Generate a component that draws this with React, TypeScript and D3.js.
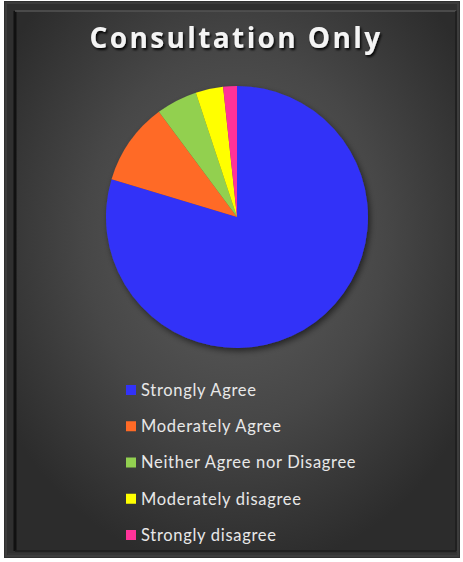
import React from "react";
import * as d3 from "d3";

const categories = [
  "Strongly Agree",
  "Moderately Agree",
  "Neither Agree nor Disagree",
  "Moderately disagree",
  "Strongly disagree",
];
const values = [47, 6, 3, 2, 1];
const colors = ["#3232F8", "#FF6A26", "#92D050", "#FFFF00", "#FF3399"];
const title = "Consultation Only";

const W = 463;
const H = 562;

export default function App() {
  const cx = 237;
  const cy = 217;
  const r = 131;
  const pie = d3.pie<number>().sort(null).startAngle(0).endAngle(2 * Math.PI);
  const arcs = pie(values);
  const arcGen = d3.arc<d3.PieArcDatum<number>>().innerRadius(0).outerRadius(r);

  const legendY = d3.scalePoint<string>().domain(categories).range([390, 535]);

  return (
    <svg
      width={W}
      height={H}
      style={{ position: "absolute", left: 0, top: 0 }}
      xmlns="http://www.w3.org/2000/svg"
    >
      <defs>
        <radialGradient id="bg" cx="0.5" cy="0.42" r="0.62">
          <stop offset="0" stopColor="#5e5e5e" />
          <stop offset="0.55" stopColor="#474747" />
          <stop offset="1" stopColor="#2c2c2c" />
        </radialGradient>
        <filter id="pieShadow" x="-20%" y="-20%" width="140%" height="140%">
          <feDropShadow dx="2" dy="3" stdDeviation="3" floodColor="#000" floodOpacity="0.55" />
        </filter>
        <filter id="titleShadow" x="-10%" y="-30%" width="120%" height="160%">
          <feDropShadow dx="1.5" dy="2" stdDeviation="1.2" floodColor="#000" floodOpacity="0.9" />
        </filter>
      </defs>
      <rect x={0} y={0} width={W} height={H} fill="#ffffff" />
      <rect x={4} y={1} width={456} height={557} fill="#2f2f2f" />
      <rect x={6} y={3} width={452} height={553} fill="none" stroke="#3c3c3c" strokeWidth={2} />
      <rect x={15} y={11} width={441} height={540} fill="url(#bg)" />
      <line x1={15} y1={11} x2={15} y2={551} stroke="#111" strokeWidth={3} />
      <line x1={15} y1={11} x2={456} y2={11} stroke="#555" strokeWidth={1.5} />
      <line x1={456} y1={11} x2={456} y2={551} stroke="#1c1c1c" strokeWidth={1.5} />
      <line x1={15} y1={551} x2={456} y2={551} stroke="#1c1c1c" strokeWidth={1.5} />
      <line x1={8} y1={554} x2={458} y2={554} stroke="#3a3a3a" strokeWidth={1} />

      <text
        x={236}
        y={48}
        textAnchor="middle"
        fill="#f4f4f4"
        fontFamily="'Open Sans', 'DejaVu Sans', sans-serif"
        fontWeight={700}
        fontSize={28}
        letterSpacing={2.4}
        filter="url(#titleShadow)"
      >
        {title}
      </text>

      <g transform={`translate(${cx},${cy})`} filter="url(#pieShadow)">
        {arcs.map((a, i) => (
          <path key={categories[i]} d={arcGen(a) || ""} fill={colors[i]} />
        ))}
      </g>

      <g>
        {categories.map((c, i) => {
          const y = legendY(c) as number;
          return (
            <g key={c}>
              <rect x={126} y={y - 5} width={10} height={10} fill={colors[i]} />
              <text
                x={141}
                y={y}
                dy="0.36em"
                fill="#e8e8e8"
                fontFamily="Lato, 'Open Sans', sans-serif"
                fontSize={16.5}
                letterSpacing={0.7}
              >
                {c}
              </text>
            </g>
          );
        })}
      </g>
    </svg>
  );
}
